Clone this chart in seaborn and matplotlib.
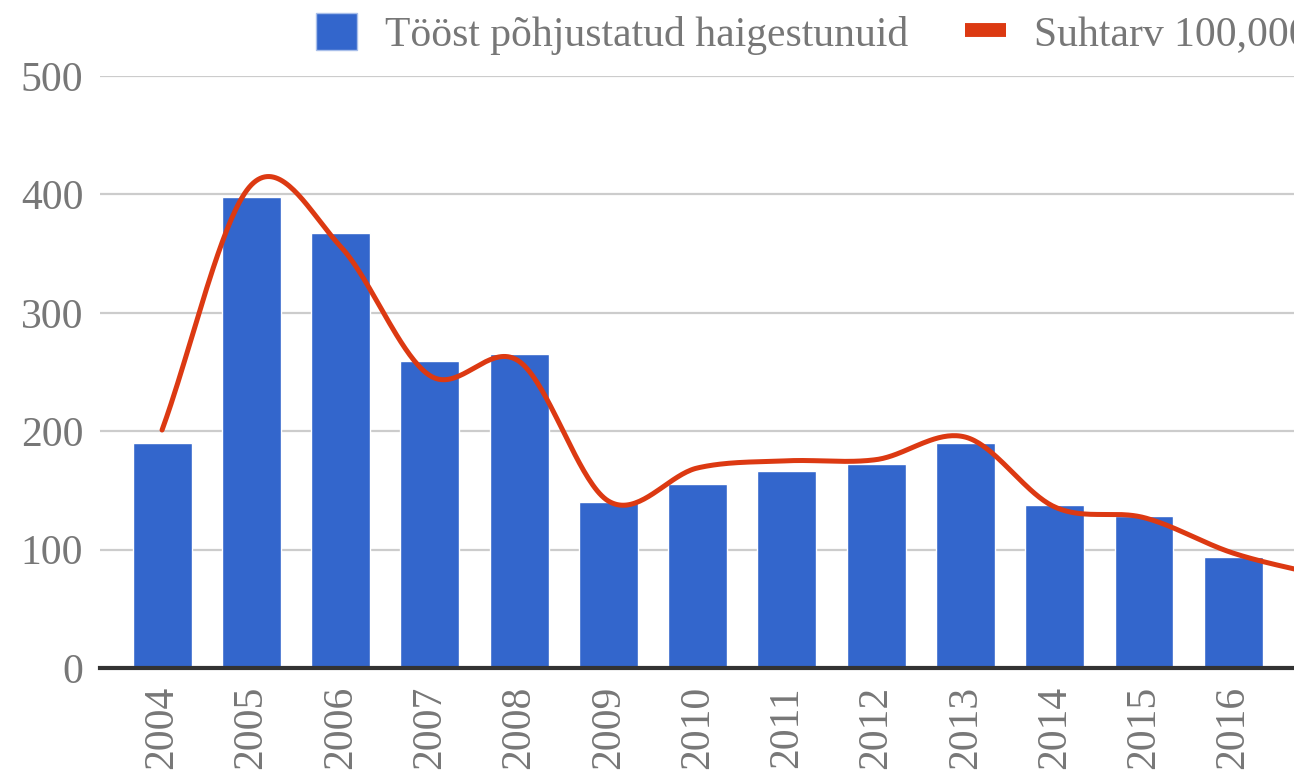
import numpy as np
import pandas as pd
import matplotlib
matplotlib.use("Agg")
import matplotlib.pyplot as plt
import seaborn as sns
from matplotlib.patches import Patch
from matplotlib.lines import Line2D

# ---- data ----
years = ["2004", "2005", "2006", "2007", "2008", "2009", "2010",
         "2011", "2012", "2013", "2014", "2015", "2016"]
cases = [190, 398, 367, 259, 265, 140, 155, 166, 172, 190, 138, 128, 94]
# rate per 100,000 (line); the last value (2017) lies beyond the visible edge
rate_years = ["2004", "2005", "2006", "2007", "2008", "2009", "2010",
              "2011", "2012", "2013", "2014", "2015", "2016", "2017"]
rate = [201, 408, 356, 247, 259, 141, 169, 175, 176, 195, 136, 127, 97, 78]
legend_labels = ["Tööst põhjustatud haigestunuid", "Suhtarv 100,000 töötaja kohta"]
y_ticks = [0, 100, 200, 300, 400, 500]

BLUE = "#3366cc"
RED = "#dc3912"
TXT = "#777777"
FS = 30

sns.set_theme(style="white")
plt.rcParams["font.family"] = ["Liberation Serif", "DejaVu Serif"]

fig = plt.figure(figsize=(12.94, 7.73), dpi=100)
ax = fig.add_axes([100 / 1294, 105 / 773, 1194 / 1294, 592 / 773])

df = pd.DataFrame({"year": years, "cases": cases})
sns.barplot(data=df, x="year", y="cases", color=BLUE, saturation=1,
            width=0.66, ax=ax, zorder=2)

# smooth curve (cubic Hermite / Catmull-Rom through the points)
xs = np.arange(len(rate), dtype=float)
ys = np.array(rate, dtype=float)
m = np.zeros_like(ys)
m[1:-1] = (ys[2:] - ys[:-2]) / 2.0
m[0] = ys[1] - ys[0]
m[-1] = ys[-1] - ys[-2]
dx, dy = [], []
for i in range(len(xs) - 1):
    t = np.linspace(0, 1, 40, endpoint=(i == len(xs) - 2))
    h00 = 2 * t**3 - 3 * t**2 + 1
    h10 = t**3 - 2 * t**2 + t
    h01 = -2 * t**3 + 3 * t**2
    h11 = t**3 - t**2
    dx.extend(xs[i] + t)
    dy.extend(h00 * ys[i] + h10 * m[i] + h01 * ys[i + 1] + h11 * m[i + 1])
sns.lineplot(x=dx, y=dy, color=RED, linewidth=3.6, ax=ax, zorder=3,
             sort=False, estimator=None)

ax.set_xlim(-0.695, 12.68)
ax.set_ylim(0, 500)
ax.set_yticks(y_ticks)
ax.set_yticklabels([str(v) for v in y_ticks])
ax.set_xticks(range(len(years)))
ax.set_xticklabels(years, rotation=90)
ax.set_xlabel("")
ax.set_ylabel("")

for v in y_ticks[1:]:
    ax.axhline(v, color="#cccccc", linewidth=1.6, zorder=1)
for s in ["top", "right", "left"]:
    ax.spines[s].set_visible(False)
ax.spines["bottom"].set_color("#333333")
ax.spines["bottom"].set_linewidth(3)
ax.spines["bottom"].set_zorder(4)
ax.grid(False)
ax.tick_params(axis="both", length=0, labelsize=FS, colors=TXT)
ax.tick_params(axis="x", pad=13)
ax.tick_params(axis="y", pad=12)

handles = [Patch(facecolor=BLUE, edgecolor="#a9bfea", linewidth=1.0),
           Line2D([0], [0], color=RED, linewidth=10, solid_capstyle="butt")]
leg = fig.legend(handles, legend_labels, loc="center left",
                 bbox_to_anchor=(316 / 1294, 1 - 34 / 773), ncol=2,
                 frameon=False, fontsize=FS, handlelength=0.98,
                 handleheight=0.98, handletextpad=0.67, columnspacing=1.37,
                 borderpad=0, borderaxespad=0)
for t in leg.get_texts():
    t.set_color(TXT)

fig.savefig("out.png", dpi=100)
